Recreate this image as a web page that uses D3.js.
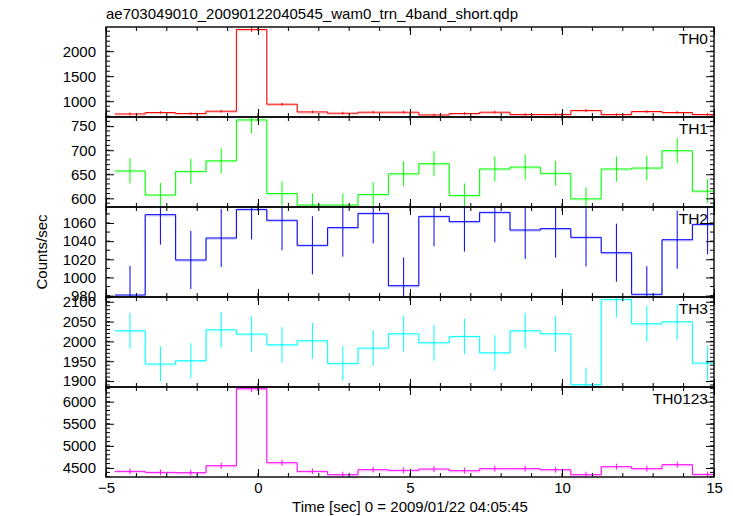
<!DOCTYPE html>
<html><head><meta charset="utf-8">
<script src="https://cdn.jsdelivr.net/npm/d3@7"></script>
<style>
body{margin:0;background:#fff;}
text{font-family:"Liberation Sans",Arial,Helvetica,sans-serif;}
</style></head>
<body><svg id="c" width="733" height="516"></svg>
<script>
// ---- data ----
const times = [-4.21,-3.21,-2.21,-1.21,-0.21,0.79,1.79,2.79,3.79,4.79,5.79,6.79,7.79,8.79,9.79,10.79,11.79,12.79,13.79,14.79];
const panelNames = ["TH0","TH1","TH2","TH3","TH0123"];
const colors = ["#ff0000","#00ff00","#0000ff","#00ffff","#ff00ff"];
const th0 = [746,774,754,800,2434,940,786,760,780,780,726,754,780,734,734,814,734,794,774,734];
const th0Err = [27,28,27,28,49,31,28,28,28,28,27,27,28,27,27,29,27,28,28,27];
const th1 = [657,607,656,678,763,610,586,586,608,651,672,606,661,665,652,599,661,663,699,615];
const th1Err = [26,25,26,26,28,25,24,24,25,26,26,25,26,26,26,24,26,26,26,25];
const th2 = [980.7,1069.2,1019.3,1043.5,1075,1063,1035.4,1054.9,1070.6,991,1067.3,1061.5,1071.7,1052.3,1053.8,1044.2,1027.3,981.5,1041.6,1058.5];
const th2Err = [32,33,32,32,33,33,32,32,33,31,33,33,33,32,32,32,32,31,32,33];
const th3 = [2026.9,1942.9,1951.3,2029.4,2018.5,1991.6,2001.7,1944.5,1983.2,2019.3,1996.6,2012.6,1971.4,2026.9,2019.3,1890.8,2105.9,2044.5,2049.6,1945.4];
const th3Err = [45,44,44,45,45,45,45,44,45,45,45,45,44,45,45,43,46,45,45,44];
const th0123 = [4424,4401,4394,4552,6294,4620,4424,4349,4462,4447,4477,4439,4485,4485,4462,4349,4530,4485,4575,4356];
const th0123Err = [66,66,66,67,79,68,66,66,67,67,67,67,67,67,67,66,67,67,68,66];
const seriesVals = [th0,th1,th2,th3,th0123];
const seriesErr = [th0Err,th1Err,th2Err,th3Err,th0123Err];
const yDomains = [[684,2484],[582,769],[978.5,1077.6],[1885,2112],[4296,6332]];
const yMajor = [[1000,1500,2000],[600,650,700,750],[980,1000,1020,1040,1060],[1900,1950,2000,2050,2100],[4500,5000,5500,6000]];
const yMinorStep = [100,10,10,10,100];
const xDomain = [-5,15];
const xMajor = [-5,0,5,10,15];
const titleText = "ae703049010_20090122040545_wam0_trn_4band_short.qdp";
const xLabel = "Time [sec] 0 = 2009/01/22 04:05:45";
const yLabel = "Counts/sec";
const binWidth = 1;

// ---- layout ----
const svg = d3.select("#c");
const L = 106, R = 714, T = 27, PH = 90;
const x = d3.scaleLinear().domain(xDomain).range([L,R]);
const xMinor = d3.range(xDomain[0], xDomain[1]+0.001, 1);

panelNames.forEach((name,i)=>{
  const top = T + i*PH, bot = top + PH;
  const y = d3.scaleLinear().domain(yDomains[i]).range([bot, top]);
  const g = svg.append("g");
  const cid = "clip"+i;
  svg.append("clipPath").attr("id",cid).append("rect").attr("x",L).attr("y",top).attr("width",R-L).attr("height",PH);
  const data = seriesVals[i];
  const err = seriesErr[i];
  const pts = data.map((v,k)=>[times[k]-binWidth/2, v]);
  pts.push([times[times.length-1]+binWidth/2, data[data.length-1]]);
  const line = d3.line().x(d=>x(d[0])).y(d=>y(d[1])).curve(d3.curveStepAfter);
  const dg = g.append("g").attr("clip-path","url(#"+cid+")");
  dg.append("path").attr("d",line(pts)).attr("fill","none").attr("stroke",colors[i]).attr("stroke-opacity",0.2).attr("stroke-width",1.5).attr("transform","translate(0,1)");
  dg.append("path").attr("d",line(pts)).attr("fill","none").attr("stroke",colors[i]).attr("stroke-width",1);
  dg.selectAll("line.err").data(data).enter().append("line")
    .attr("x1",(d,k)=>x(times[k])).attr("x2",(d,k)=>x(times[k]))
    .attr("y1",(d,k)=>y(d-err[k])).attr("y2",(d,k)=>y(d+err[k]))
    .attr("stroke",colors[i]).attr("stroke-width",1);

  const yd = yDomains[i];
  const ms = yMinorStep[i];
  const yMinor = d3.range(Math.ceil(yd[0]/ms)*ms, yd[1], ms);
  const tk = g.append("g").attr("stroke","#000").attr("stroke-width",1);
  yMinor.forEach(v=>{
    tk.append("line").attr("x1",L).attr("x2",L+4).attr("y1",y(v)).attr("y2",y(v));
    tk.append("line").attr("x1",R).attr("x2",R-4).attr("y1",y(v)).attr("y2",y(v));
  });
  xMinor.forEach(v=>{
    tk.append("line").attr("x1",x(v)).attr("x2",x(v)).attr("y1",top).attr("y2",top+4);
    tk.append("line").attr("x1",x(v)).attr("x2",x(v)).attr("y1",bot).attr("y2",bot-4);
  });
  const ay = g.append("g").attr("transform",`translate(${L},0)`)
    .call(d3.axisLeft(y).tickValues(yMajor[i]).tickSize(-8).tickPadding(10).tickFormat(d3.format("d")));
  ay.select(".domain").remove();
  ay.selectAll("text").attr("font-size",15).attr("fill","#000").attr("font-family","Liberation Sans, Arial, sans-serif");
  const ay2 = g.append("g").attr("transform",`translate(${R},0)`)
    .call(d3.axisRight(y).tickValues(yMajor[i]).tickSize(-8).tickFormat(""));
  ay2.select(".domain").remove();
  const ax1 = g.append("g").attr("transform",`translate(0,${top})`)
    .call(d3.axisTop(x).tickValues(xMajor).tickSize(-8).tickFormat(""));
  ax1.select(".domain").remove();
  const ax2 = g.append("g").attr("transform",`translate(0,${bot})`)
    .call(d3.axisBottom(x).tickValues(xMajor).tickSize(-8).tickPadding(5).tickFormat(i===4? d3.format("d") : ""));
  ax2.select(".domain").remove();
  ax2.selectAll("text").attr("font-size",15).attr("fill","#000").attr("font-family","Liberation Sans, Arial, sans-serif");
  g.append("rect").attr("x",L).attr("y",top).attr("width",R-L).attr("height",PH)
    .attr("fill","none").attr("stroke","#000").attr("stroke-width",1.4);
  g.append("text").attr("x",R-6).attr("y",top+17).attr("text-anchor","end")
    .attr("font-size",15.5).attr("fill","#000").text(name);
});

svg.append("text").attr("x",L).attr("y",19).attr("font-size",15).attr("fill","#000").text(titleText);
svg.append("text").attr("x",(L+R)/2).attr("y",512).attr("text-anchor","middle").attr("font-size",15).attr("fill","#000").text(xLabel);
svg.append("text").attr("transform",`translate(47,${T+PH*2.5}) rotate(-90)`).attr("text-anchor","middle")
  .attr("font-size",15).attr("fill","#000").text(yLabel);
</script>
</body></html>
